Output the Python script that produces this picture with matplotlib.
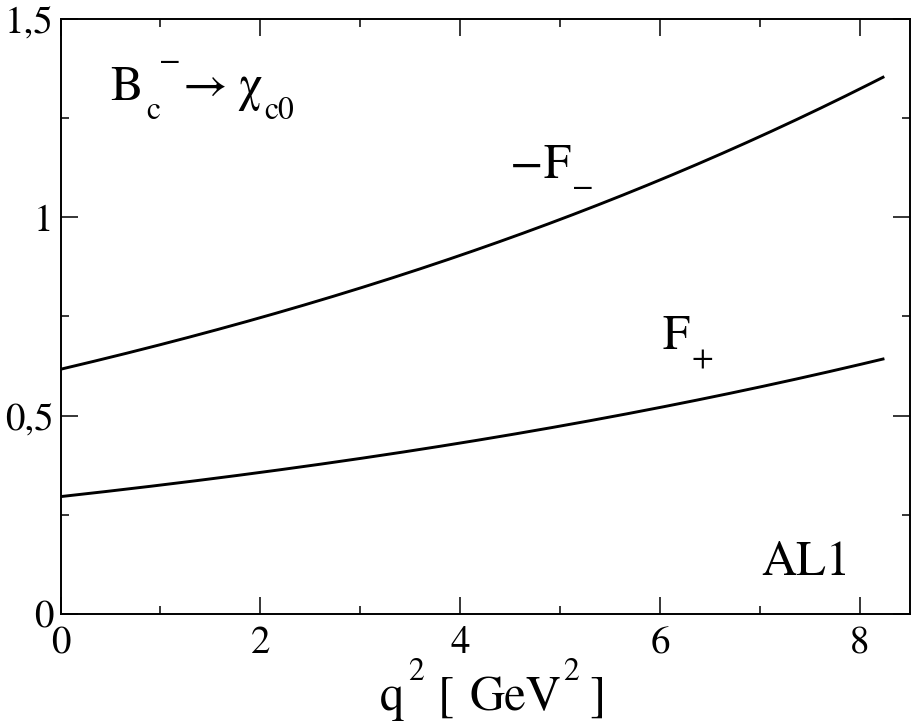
import matplotlib
matplotlib.use('Agg')
import matplotlib.pyplot as plt
import matplotlib.transforms as transforms
from matplotlib.ticker import MultipleLocator, FixedLocator
import numpy as np

# values
q2 = [0, 1, 2, 3, 4, 5, 6, 7, 8, 8.23]
f_minus = [0.617, 0.679, 0.747, 0.822, 0.904, 0.995, 1.094, 1.204, 1.324, 1.353]
f_plus = [0.296, 0.325, 0.357, 0.392, 0.431, 0.474, 0.521, 0.572, 0.629, 0.643]

ytick_vals = [0, 0.5, 1, 1.5]
ytick_labels = ['0', '0,5', '1', '1,5']
xtick_vals = [0, 2, 4, 6, 8]

plt.rcParams['font.family'] = ['STIXGeneral', 'Liberation Serif', 'DejaVu Serif']
plt.rcParams['mathtext.fontset'] = 'stix'

fig = plt.figure(figsize=(9.14, 7.24), dpi=100)
ax = fig.add_axes([0.0662, 0.1519, 0.9294, 0.8219])

# smooth curve through the read points
xs = np.linspace(q2[0], q2[-1], 200)
for f in (f_minus, f_plus):
    c = np.polyfit(q2, f, 3)
    ax.plot(xs, np.polyval(c, xs), color='black', lw=2.1)

ax.set_xlim(0, 8.5)
ax.set_ylim(0, 1.5)

ax.xaxis.set_major_locator(FixedLocator(xtick_vals))
ax.xaxis.set_minor_locator(MultipleLocator(1))
ax.yaxis.set_major_locator(FixedLocator(ytick_vals))
ax.yaxis.set_minor_locator(MultipleLocator(0.25))
ax.set_yticklabels(ytick_labels)

ax.tick_params(which='both', direction='in', top=True, right=True, width=1.1, labelsize=28)
ax.tick_params(which='major', length=12)
ax.tick_params(which='minor', length=6)
ax.tick_params(axis='x', pad=9)
ax.tick_params(axis='y', pad=5)
for sp in ax.spines.values():
    sp.set_linewidth(1.4)

fig.canvas.draw()
rend = fig.canvas.get_renderer()

def rich(x, y, parts, size, base):
    # grace style text: pieces of (text, scale, rise px, kern px)
    dx = 0.0
    for s, scale, rise, kern in parts:
        dx += kern
        tr = transforms.offset_copy(base, fig=fig, x=dx, y=rise, units='dots')
        t = ax.text(x, y, s, fontsize=size * scale, transform=tr,
                    ha='left', va='baseline', clip_on=False)
        dx += t.get_window_extent(rend).width

SUB = 0.65
rich(0.5, 1.296, [('B', 1, 0, 0), ('c', SUB, -19, 3), ('\u2212', SUB, 30, -1),
                  ('\u2192', 1, 0, 2), ('\u03c7', 1, 0, 10), ('c0', SUB, -19, 2)],
     35, ax.transData)
rich(4.5, 1.099, [('\u2212', 1, 0, 0), ('F', 1, 0, 0), ('\u2212', SUB, -18, 2)], 35, ax.transData)
rich(6.02, 0.668, [('F', 1, 0, 0), ('+', SUB, -18, 2)], 35, ax.transData)
rich(7.01, 0.098, [('AL1', 1, 0, 0)], 35, ax.transData)

# axis label, q^2 [ GeV^2 ]
rich(380 / 914, 14 / 724, [('q', 1, 0, 0), ('2', SUB, 30, 4), ('[', 1, 0, 14),
                           ('GeV', 1, 0, 15), ('2', SUB, 30, 2), (']', 1, 0, 10)],
     35, fig.transFigure)

fig.savefig('out.png', dpi=100)
